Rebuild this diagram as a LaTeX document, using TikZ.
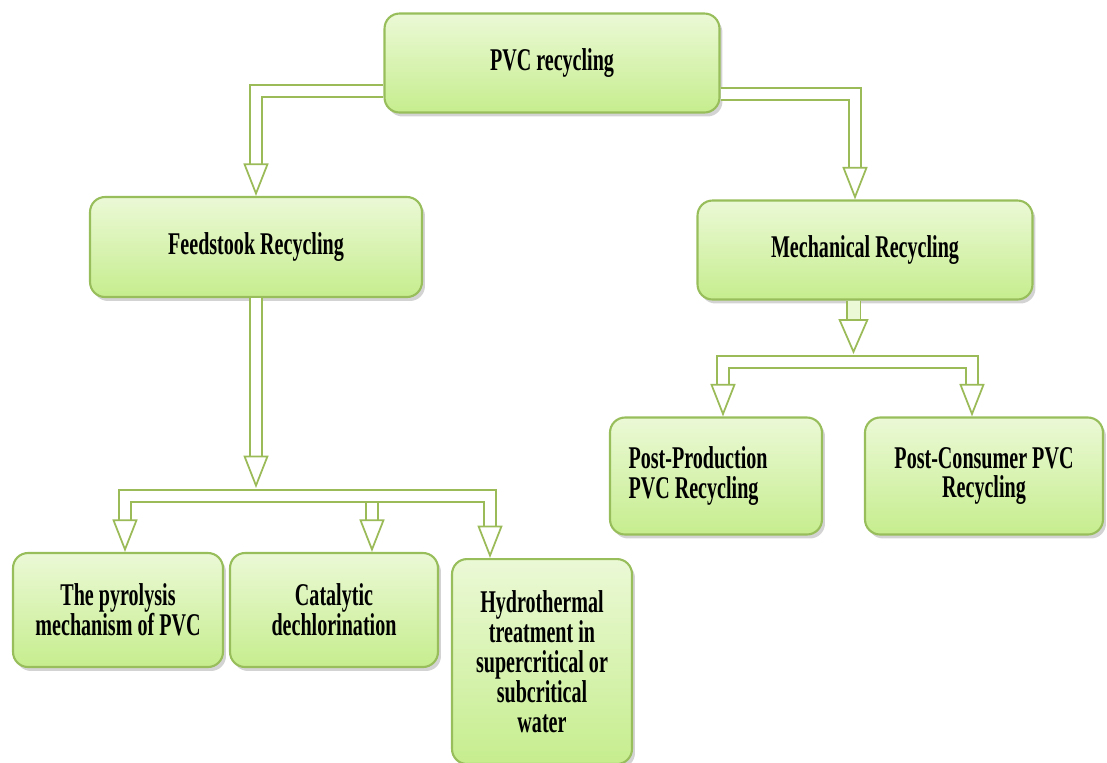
\documentclass[tikz,border=0pt]{standalone}
\usepackage{fontspec}
\setmainfont{Liberation Serif}[FakeStretch=0.635]
\usepackage{xcolor}
\usetikzlibrary{arrows.meta, positioning, calc, shadows}
\definecolor{arrowgreen}{HTML}{9BBB59}
\definecolor{boxtop}{HTML}{EBF9D6}
\definecolor{boxbot}{HTML}{C6ED8E}
\definecolor{boxline}{HTML}{98BE5C}
\tikzset{
  box/.style={draw=boxline, line width=1.2pt, rounded corners=0.3cm,
    top color=boxtop, bottom color=boxbot, align=center,
    font=\fontsize{18}{17}\selectfont\bfseries,
    drop shadow={shadow xshift=0.06cm, shadow yshift=-0.08cm, opacity=0.35}},
  flow/.style={draw=arrowgreen, line width=1pt, double=white, double distance=0.2cm,
    -{Triangle[open, length=0.65cm, width=0.5cm]}},
  flowfill/.style={flow, double=boxtop, double distance=0.24cm,
    -{Triangle[open, length=0.7cm, width=0.6cm]}}
}

\begin{document}
\begin{tikzpicture}[x=0.02cm, y=-0.02cm]
  \useasboundingbox (0,0) rectangle (1107,762);
  \clip (0,0) rectangle (1107,762);

  \node[box, minimum width=6.7cm, minimum height=1.98cm] (pvc) at (552,63) {PVC recycling};
  \node[box, minimum width=6.64cm, minimum height=2cm] (feed) at (256,247) {Feedstook Recycling};
  \node[box, minimum width=6.7cm, minimum height=1.98cm] (mech) at (865,250) {Mechanical Recycling};

  \node[box, minimum width=4.2cm, minimum height=2.28cm] (pyro) at (118,610) {The pyrolysis\\mechanism of PVC};
  \node[box, minimum width=4.16cm, minimum height=2.28cm] (cat) at (334,610) {Catalytic\\dechlorination};
  \node[box, minimum width=3.6cm, minimum height=4.1cm, anchor=north] (hydro) at (542,558)
    {Hydrothermal\\treatment in\\supercritical or\\subcritical\\water};

  \node[box, minimum width=4.24cm, minimum height=2.34cm, align=flush left, text width=3.5cm] (prod) at (716,476)
    {Post-Production\\PVC Recycling};
  \node[box, minimum width=4.76cm, minimum height=2.34cm] (cons) at (984,476) {Post-Consumer PVC\\Recycling};

  \draw[flow] ([yshift=-0.56cm]pvc.west) -| (feed.north);
  \draw[flow] ([yshift=-0.62cm]pvc.east) -| ([xshift=-0.2cm]mech.north);

  % feedstock branches
  \coordinate (fbar) at ([yshift=-3.96cm]feed.south);
  \draw[flow] (fbar) -| ([xshift=0.14cm]pyro.north);
  \draw[flow] (fbar) -| ([xshift=0.76cm]cat.north);
  \draw[flow] (fbar) -| ([xshift=-1.04cm]hydro.north);
  \draw[flow] (feed.south) -- ([yshift=0.16cm]fbar);

  % mechanical branches
  \coordinate (mbar) at ([xshift=-0.23cm, yshift=-1.23cm]mech.south);
  \draw[flow] (mbar) -| ([xshift=0.14cm]prod.north);
  \draw[flow] (mbar) -| ([xshift=-0.24cm]cons.north);
  \draw[flowfill] ([xshift=-0.23cm]mech.south) -- ([yshift=0.16cm]mbar);
\end{tikzpicture}
\end{document}
